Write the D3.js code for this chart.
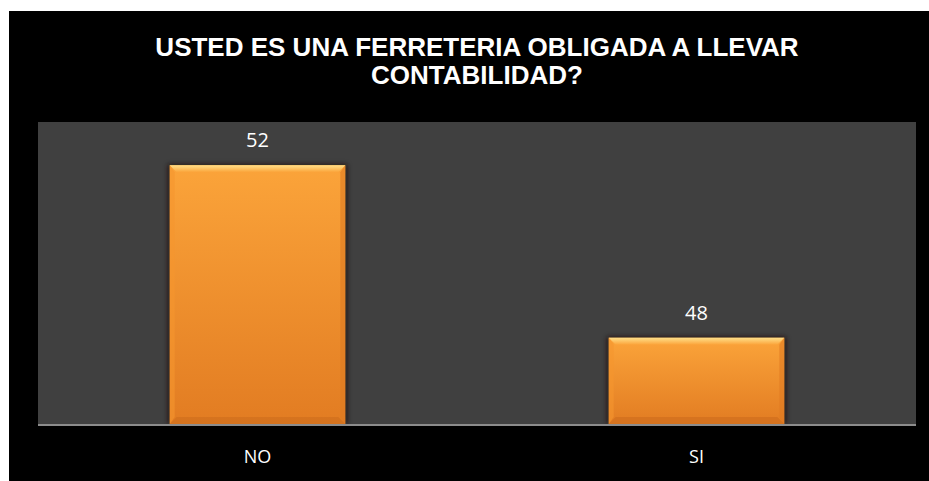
<!DOCTYPE html>
<html><head><meta charset="utf-8">
<script src="https://cdn.jsdelivr.net/npm/d3@7"></script>
<style>html,body{margin:0;padding:0;background:#fff;}svg{display:block;}</style>
</head><body>
<script>
const categories = ["NO", "SI"];
const values = [52, 48];
const titleLines = ["USTED ES UNA FERRETERIA OBLIGADA A LLEVAR", "CONTABILIDAD?"];
const yDomain = [46, 53];

const W = 929, H = 481;
const svg = d3.select("body").append("svg").attr("width", W).attr("height", H);
svg.append("rect").attr("x", 9).attr("y", 11).attr("width", W - 9).attr("height", H - 11).attr("fill", "#000");

const plot = {left: 38, right: 916, top: 122, bottom: 424};
svg.append("rect").attr("x", plot.left).attr("y", plot.top)
  .attr("width", plot.right - plot.left).attr("height", plot.bottom - plot.top).attr("fill", "#404040");

const x = d3.scaleBand().domain(categories).range([plot.left, plot.right]).paddingInner(0.6).paddingOuter(0.3);
const y = d3.scaleLinear().domain(yDomain).range([plot.bottom, plot.top]);

const defs = svg.append("defs");
const g1 = defs.append("linearGradient").attr("id", "barg").attr("x1", 0).attr("y1", 0).attr("x2", 0).attr("y2", 1);
g1.append("stop").attr("offset", "0%").attr("stop-color", "#FBA43A");
g1.append("stop").attr("offset", "100%").attr("stop-color", "#E27C22");
const gTop = defs.append("linearGradient").attr("id", "bevt").attr("x1", 0).attr("y1", 0).attr("x2", 0).attr("y2", 1);
gTop.append("stop").attr("offset", "0%").attr("stop-color", "#FFE08A");
gTop.append("stop").attr("offset", "100%").attr("stop-color", "#FBA43A");
const filt = defs.append("filter").attr("id", "sh").attr("x", "-10%").attr("y", "-10%").attr("width", "120%").attr("height", "120%");
filt.append("feGaussianBlur").attr("stdDeviation", 2.5);

const bars = svg.append("g").selectAll("g").data(categories).join("g");
bars.append("rect")
  .attr("x", d => x(d) - 2).attr("y", (d, i) => y(values[i]) - 1)
  .attr("width", x.bandwidth() + 4).attr("height", (d, i) => plot.bottom - y(values[i]) + 1)
  .attr("fill", "#1a1008").attr("opacity", 0.7).attr("filter", "url(#sh)");
bars.append("rect")
  .attr("x", d => x(d)).attr("y", (d, i) => y(values[i]))
  .attr("width", x.bandwidth()).attr("height", (d, i) => plot.bottom - y(values[i]))
  .attr("fill", "url(#barg)");
bars.append("path")
  .attr("d", (d, i) => {
    const x0 = x(d), x1 = x(d) + x.bandwidth(), t = y(values[i]), b = 7;
    return `M${x0},${t}L${x1},${t}L${x1 - b},${t + b}L${x0 + b},${t + b}Z`;
  })
  .attr("fill", "url(#bevt)");
bars.append("path")
  .attr("d", (d, i) => {
    const x0 = x(d), x1 = x(d) + x.bandwidth(), bt = plot.bottom, b = 7;
    return `M${x0},${bt}L${x1},${bt}L${x1 - b},${bt - b}L${x0 + b},${bt - b}Z`;
  })
  .attr("fill", "#D2701E").attr("opacity", 0.8);
bars.append("path")
  .attr("d", (d, i) => {
    const x0 = x(d), t = y(values[i]), bt = plot.bottom, b = 5;
    return `M${x0},${t}L${x0 + b},${t + 7}L${x0 + b},${bt - 7}L${x0},${bt}Z`;
  }).attr("fill", "#F5962F").attr("opacity", 0.6);
bars.append("path")
  .attr("d", (d, i) => {
    const x1 = x(d) + x.bandwidth(), t = y(values[i]), bt = plot.bottom, b = 5;
    return `M${x1},${t}L${x1 - b},${t + 7}L${x1 - b},${bt - 7}L${x1},${bt}Z`;
  }).attr("fill", "#E07A22").attr("opacity", 0.6);

bars.append("text")
  .attr("x", d => x(d) + x.bandwidth() / 2).attr("y", (d, i) => y(values[i]) - 18)
  .attr("text-anchor", "middle").attr("fill", "#fff")
  .attr("font-family", "'Open Sans', sans-serif").attr("font-size", 20)
  .text((d, i) => values[i]);

const xAxis = d3.axisBottom(x).tickSize(0).tickPadding(26);
const ax = svg.append("g").attr("transform", `translate(0,${plot.bottom})`).call(xAxis);
ax.select(".domain").attr("stroke", "#8c8c8c").attr("stroke-width", 2).attr("d", `M${plot.left},1H${plot.right}`);
ax.selectAll("text").attr("fill", "#fff").attr("font-family", "'Open Sans', sans-serif").attr("font-size", 18);

svg.append("text").attr("x", 477).attr("y", 56).attr("text-anchor", "middle")
  .attr("fill", "#fff").attr("font-family", "'Liberation Sans', Arial, sans-serif")
  .attr("font-weight", "bold").attr("font-size", 26)
  .selectAll("tspan").data(titleLines).join("tspan")
  .attr("x", 477).attr("dy", (d, i) => i === 0 ? 0 : 28).text(d => d);
</script>
</body></html>
